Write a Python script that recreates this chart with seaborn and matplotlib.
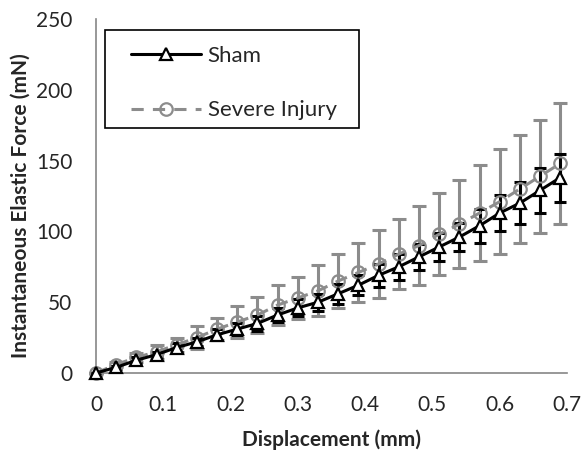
import numpy as np
import pandas as pd
import matplotlib
matplotlib.use("Agg")
import matplotlib.pyplot as plt
import seaborn as sns
from matplotlib.lines import Line2D
from matplotlib.patches import Rectangle

displacement = [0.00, 0.03, 0.06, 0.09, 0.12, 0.15, 0.18, 0.21, 0.24, 0.27, 0.30, 0.33,
                0.36, 0.39, 0.42, 0.45, 0.48, 0.51, 0.54, 0.57, 0.60, 0.63, 0.66, 0.69]
sham = [0, 4, 9, 13, 18, 22, 27, 31, 35, 41, 46, 50, 56, 62, 69, 75, 82, 89, 96, 104, 113, 120, 129, 138]
sham_err = [0, 1, 2, 2, 3, 3, 4, 4, 5, 5, 6, 6, 7, 7, 8, 9, 9, 10, 10, 12, 13, 15, 16, 17]
severe = [0, 6, 11, 15, 20, 25, 31, 36, 41, 48, 53, 58, 65, 71, 77, 84, 90, 98, 105, 113, 121, 130, 139, 148]
severe_err = [0, 2, 3, 5, 5, 8, 8, 11, 13, 14, 15, 18, 19, 21, 24, 25, 28, 29, 31, 34, 37, 38, 40, 43]

series_names = ["Sham", "Severe Injury"]
x_ticks = [0, 0.1, 0.2, 0.3, 0.4, 0.5, 0.6, 0.7]
x_tick_labels = ["0", "0.1", "0.2", "0.3", "0.4", "0.5", "0.6", "0.7"]
y_ticks = [0, 50, 100, 150, 200, 250]

sns.set_style("white")
plt.rcParams["font.family"] = ["Lato", "DejaVu Sans"]

df_sham = pd.DataFrame({"Displacement": displacement, "Force": sham})
df_sev = pd.DataFrame({"Displacement": displacement, "Force": severe})

W, H = 586, 450
fig = plt.figure(figsize=(W / 100, H / 100), dpi=100)
ax = fig.add_axes([96 / W, 1 - 373 / H, 471 / W, 354 / H])

grey = "#8c8c8c"
dash = (0, (4, 3))

# error bars
ax.errorbar(displacement, severe, yerr=severe_err, fmt="none", ecolor=grey,
            elinewidth=2.2, capsize=5, capthick=2.2, zorder=2, clip_on=False)
ax.errorbar(displacement, sham, yerr=sham_err, fmt="none", ecolor="black",
            elinewidth=2.2, capsize=4, capthick=2.2, zorder=2, clip_on=False)

sns.lineplot(data=df_sev, x="Displacement", y="Force", color=grey,
             linestyle=dash, linewidth=2.2, marker="o", markersize=9,
             markerfacecolor="none", markeredgecolor=grey, markeredgewidth=1.6,
             ax=ax, zorder=3, clip_on=False)
sns.lineplot(data=df_sham, x="Displacement", y="Force", color="black",
             linestyle="-", linewidth=2.2, marker="^", markersize=9,
             markerfacecolor="white", markeredgecolor="black", markeredgewidth=1.6,
             ax=ax, zorder=4, clip_on=False)

ax.set_xlim(0, 0.7)
ax.set_ylim(0, 250)
ax.set_xticks(x_ticks)
ax.set_xticklabels(x_tick_labels)
ax.set_yticks(y_ticks)
ax.tick_params(axis="both", direction="in", length=5, width=1, color="#868686",
               labelsize=15)
ax.tick_params(axis="x", pad=16)
ax.tick_params(axis="y", pad=17)
for s in ["top", "right"]:
    ax.spines[s].set_visible(False)
for s in ["left", "bottom"]:
    ax.spines[s].set_color("#868686")
    ax.spines[s].set_linewidth(1.2)

ax.set_xlabel("Displacement (mm)", fontsize=15, fontweight="bold")
ax.xaxis.set_label_coords((331 - 96) / 471, -(440 - 373) / 354)
ax.xaxis.label.set_va("center")
ax.set_ylabel("Instantaneous Elastic Force (mN)", fontsize=15, fontweight="bold")
ax.yaxis.set_label_coords((21 - 96) / 471, (373 - 206) / 354)
ax.yaxis.label.set_va("center")

handles = [
    Line2D([], [], color="black", lw=2.2, marker="^", markersize=9,
           markerfacecolor="white", markeredgewidth=1.6),
    Line2D([], [], color=grey, lw=2.2, ls=dash, marker="o", markersize=9,
           markerfacecolor="none", markeredgewidth=1.6),
]
fs = 16
leg = fig.legend(handles, series_names, loc="upper left",
                 bbox_to_anchor=(131 / W, 1 - 46 / H),
                 fontsize=fs, frameon=False, handlelength=70 / (fs * 100 / 72),
                 borderpad=0, labelspacing=1.55, handletextpad=0.3, borderaxespad=0)
fig.add_artist(Rectangle((105 / W, 1 - 128 / H), 254 / W, 98 / H,
                         transform=fig.transFigure, fill=False,
                         edgecolor="black", linewidth=1.2))

fig.savefig("out.png", dpi=100)
